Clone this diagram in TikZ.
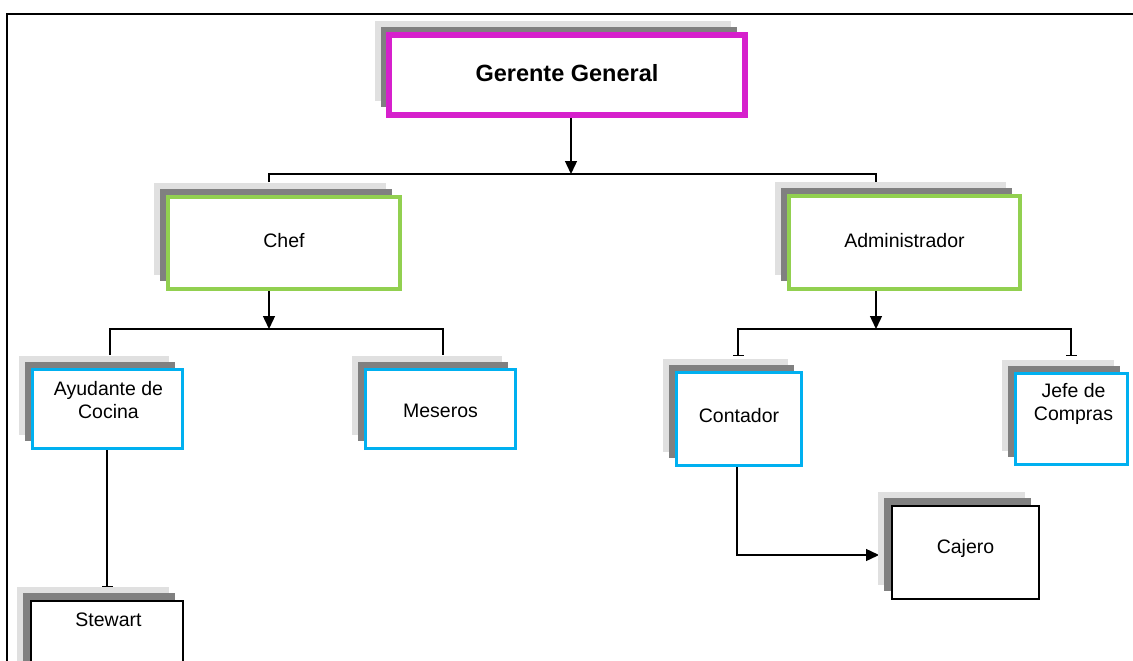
\documentclass[tikz,border=0pt]{standalone}
\usepackage{fontspec}
\setmainfont{Liberation Sans}
\usetikzlibrary{arrows.meta,shadows,backgrounds}
\definecolor{mag}{RGB}{214,32,204}
\definecolor{grn}{RGB}{146,208,80}
\definecolor{cyn}{RGB}{0,176,240}
\definecolor{lgray}{RGB}{224,224,224}
\definecolor{dgray}{RGB}{128,128,128}
\newcommand\liftby[2]{\raisebox{#1}[\height][\depth]{#2}}
\begin{document}
\begin{tikzpicture}[x=1pt,y=-1pt,
  box/.style={rectangle, fill=white, inner sep=0pt, align=center,
    font=\fontsize{19.5}{23}\selectfont,
    general shadow={fill=lgray, shadow xshift=-14pt, shadow yshift=14pt},
    general shadow={fill=dgray, shadow xshift=-8pt, shadow yshift=8pt}},
  txt/.style={inner sep=0pt, align=center, font=\fontsize{19.5}{23}\selectfont},
  conn/.style={line width=1.4pt, black},
  arr/.style={conn, -{Triangle[length=13pt,width=12pt]}},
  bar/.style={conn, -{Bar[width=11pt]}},
  twobar/.style={conn, {Bar[width=11pt]}-{Bar[width=11pt]}},
]
\useasboundingbox (0,0) rectangle (1133,661);
\draw[line width=2pt, line join=miter] (7,661) -- (7,14) -- (1133,14);

% boxes
\node[box, draw=mag, line width=6pt, minimum width=356pt, minimum height=80pt,
      font=\bfseries\fontsize{23.5}{27}\selectfont] (g) at (567,75) {\liftby{2pt}{Gerente General}};
\node[box, draw=grn, line width=4pt, minimum width=232pt, minimum height=92pt] (chef) at (284,243) {\liftby{2pt}{Chef}};
\node[box, draw=grn, line width=4pt, minimum width=231pt, minimum height=93pt] (adm) at (904.5,242.5) {\liftby{2pt}{Administrador}};
\node[box, draw=cyn, line width=3pt, minimum width=150pt, minimum height=79pt] (ay) at (107.5,409) {};
\node[txt] (ayt) at (108.5,400) {Ayudante de\\Cocina};
\node[box, draw=cyn, line width=3pt, minimum width=150pt, minimum height=79pt] (mes) at (440.5,409) {\liftby{-2pt}{Meseros}};
\node[box, draw=cyn, line width=3pt, minimum width=125pt, minimum height=93pt] (con) at (739,419) {\liftby{3pt}{Contador}};
\node[box, draw=cyn, line width=3pt, minimum width=112pt, minimum height=91pt] (jef) at (1071.5,419) {};
\node[txt] (jeft) at (1073.5,404) {Jefe de\\Compras};
\node[box, draw=black, line width=1.2pt, minimum width=147pt, minimum height=93pt] (caj) at (965.5,552.5) {\liftby{4pt}{Cajero}};
\begin{scope}
  \clip (0,0) rectangle (1133,661);
  \node[box, draw=black, line width=1.2pt, minimum width=152pt, minimum height=88pt] (ste) at (107,645) {};
\end{scope}
\node[txt] (stet) at (108.5,620) {Stewart};

% connectors
\coordinate (b1) at (571,174);
\coordinate (b1l) at (269,174);
\coordinate (b1r) at (876,174);
\coordinate (chefin) at (269,182);
\coordinate (admin) at (876,182);
\coordinate (b2) at (269,329);
\coordinate (b2l) at (110,329);
\coordinate (b2r) at (443,329);
\coordinate (ayin) at (110,355);
\coordinate (mesin) at (443,355);
\coordinate (stein) at (107,587);
\coordinate (b3) at (876,329);
\coordinate (b3l) at (738,329);
\coordinate (b3r) at (1071,329);
\coordinate (conin) at (738,356);
\coordinate (jefin) at (1071,356);
\coordinate (turn) at (737,555);
\coordinate (cajin) at (879,555);
\begin{pgfonlayer}{background}
  \draw[arr] (g.south -| b1) -- (b1);
  \draw[conn] (chefin) -- (b1l) -- (b1r) -- (admin);
  \draw[arr] (chef.south -| b2) -- (b2);
  \draw[conn] (ayin) -- (b2l) -- (b2r) -- (mesin);
  \draw[bar] (ay.south -| stein) -- (stein);
  \draw[arr] (adm.south -| b3) -- (b3);
  \draw[twobar] (conin) -- (b3l) -- (b3r) -- (jefin);
  \draw[arr] (con.south -| turn) -- (turn) -- (cajin);
\end{pgfonlayer}
\end{tikzpicture}
\end{document}
